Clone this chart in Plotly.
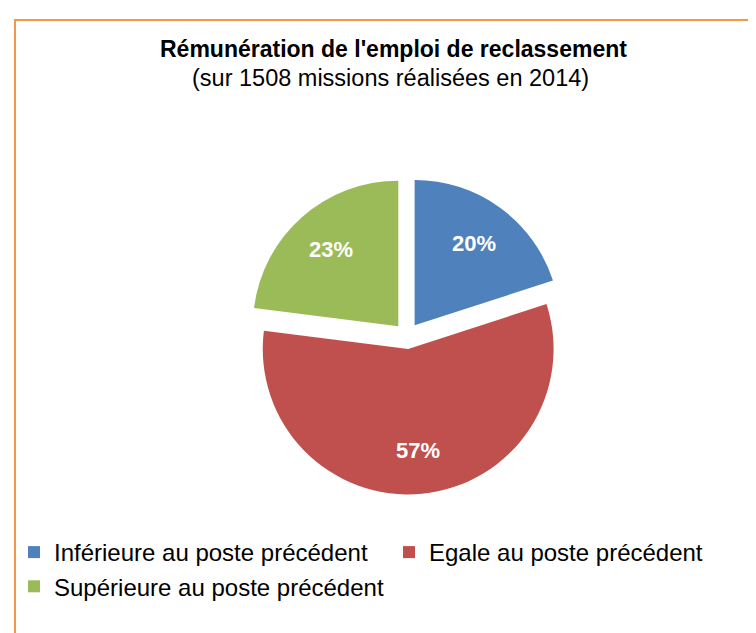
import math
import plotly.graph_objects as go

labels = ["Inférieure au poste précédent", "Egale au poste précédent", "Supérieure au poste précédent"]
values = [20, 57, 23]
colors = ["#4F81BD", "#C0504D", "#9BBB59"]

W, H = 756, 633
FONT = "Liberation Sans, Arial"

# pie placement (paper fractions)
dom_x = [0.3180, 0.7374]
dom_y = [0.2315, 0.7323]
pull = 0.09

fig = go.Figure(go.Pie(
    labels=labels,
    values=values,
    sort=False,
    direction="clockwise",
    rotation=0,
    pull=[pull] * len(values),
    marker=dict(colors=colors, line=dict(width=0)),
    textinfo="none",
    domain=dict(x=dom_x, y=dom_y),
    hoverinfo="label+percent",
))

# percentage labels placed along each slice's mid-angle, further out like Excel
cx = (dom_x[0] + dom_x[1]) / 2 * W
cy = (dom_y[0] + dom_y[1]) / 2 * H
R = min((dom_x[1] - dom_x[0]) * W, (dom_y[1] - dom_y[0]) * H) / 2 / (1 + pull)
total = sum(values)
start = 0.0
for v in values:
    mid = math.radians((start + v / 2) / total * 360)
    r = R * 0.79
    fig.add_annotation(text="<b>%d%%</b>" % round(v / total * 100),
                       x=(cx + r * math.sin(mid)) / W, y=(cy + r * math.cos(mid)) / H,
                       xref="paper", yref="paper", showarrow=False,
                       xanchor="center", yanchor="middle",
                       font=dict(family=FONT, size=22, color="white"))
    start += v

fig.add_annotation(text="<b>Rémunération de l'emploi de reclassement</b>",
                   x=385 / W, y=1 - 41 / H, xref="paper", yref="paper",
                   xanchor="center", yanchor="middle",
                   showarrow=False, font=dict(family=FONT, size=23, color="black"))
fig.add_annotation(text="(sur 1508 missions réalisées en 2014)",
                   x=382 / W, y=1 - 70 / H, xref="paper", yref="paper",
                   xanchor="center", yanchor="middle",
                   showarrow=False, font=dict(family=FONT, size=23.5, color="black"))

# orange frame (right and bottom edges fall outside the picture)
fig.add_shape(type="rect", xref="paper", yref="paper",
              x0=7 / W, x1=1.05, y0=-0.05, y1=1 - 12 / H,
              line=dict(color="#F79646", width=2))

fig.update_layout(
    width=W, height=H,
    margin=dict(l=0, r=0, t=0, b=0),
    paper_bgcolor="white",
    showlegend=True,
    legend=dict(orientation="h", x=0.008, y=1 - 522 / H, xanchor="left", yanchor="top",
                entrywidth=330, tracegroupgap=0, itemwidth=30,
                bgcolor="rgba(0,0,0,0)",
                font=dict(family=FONT, size=24, color="black")),
)

fig.write_html("out.html")
